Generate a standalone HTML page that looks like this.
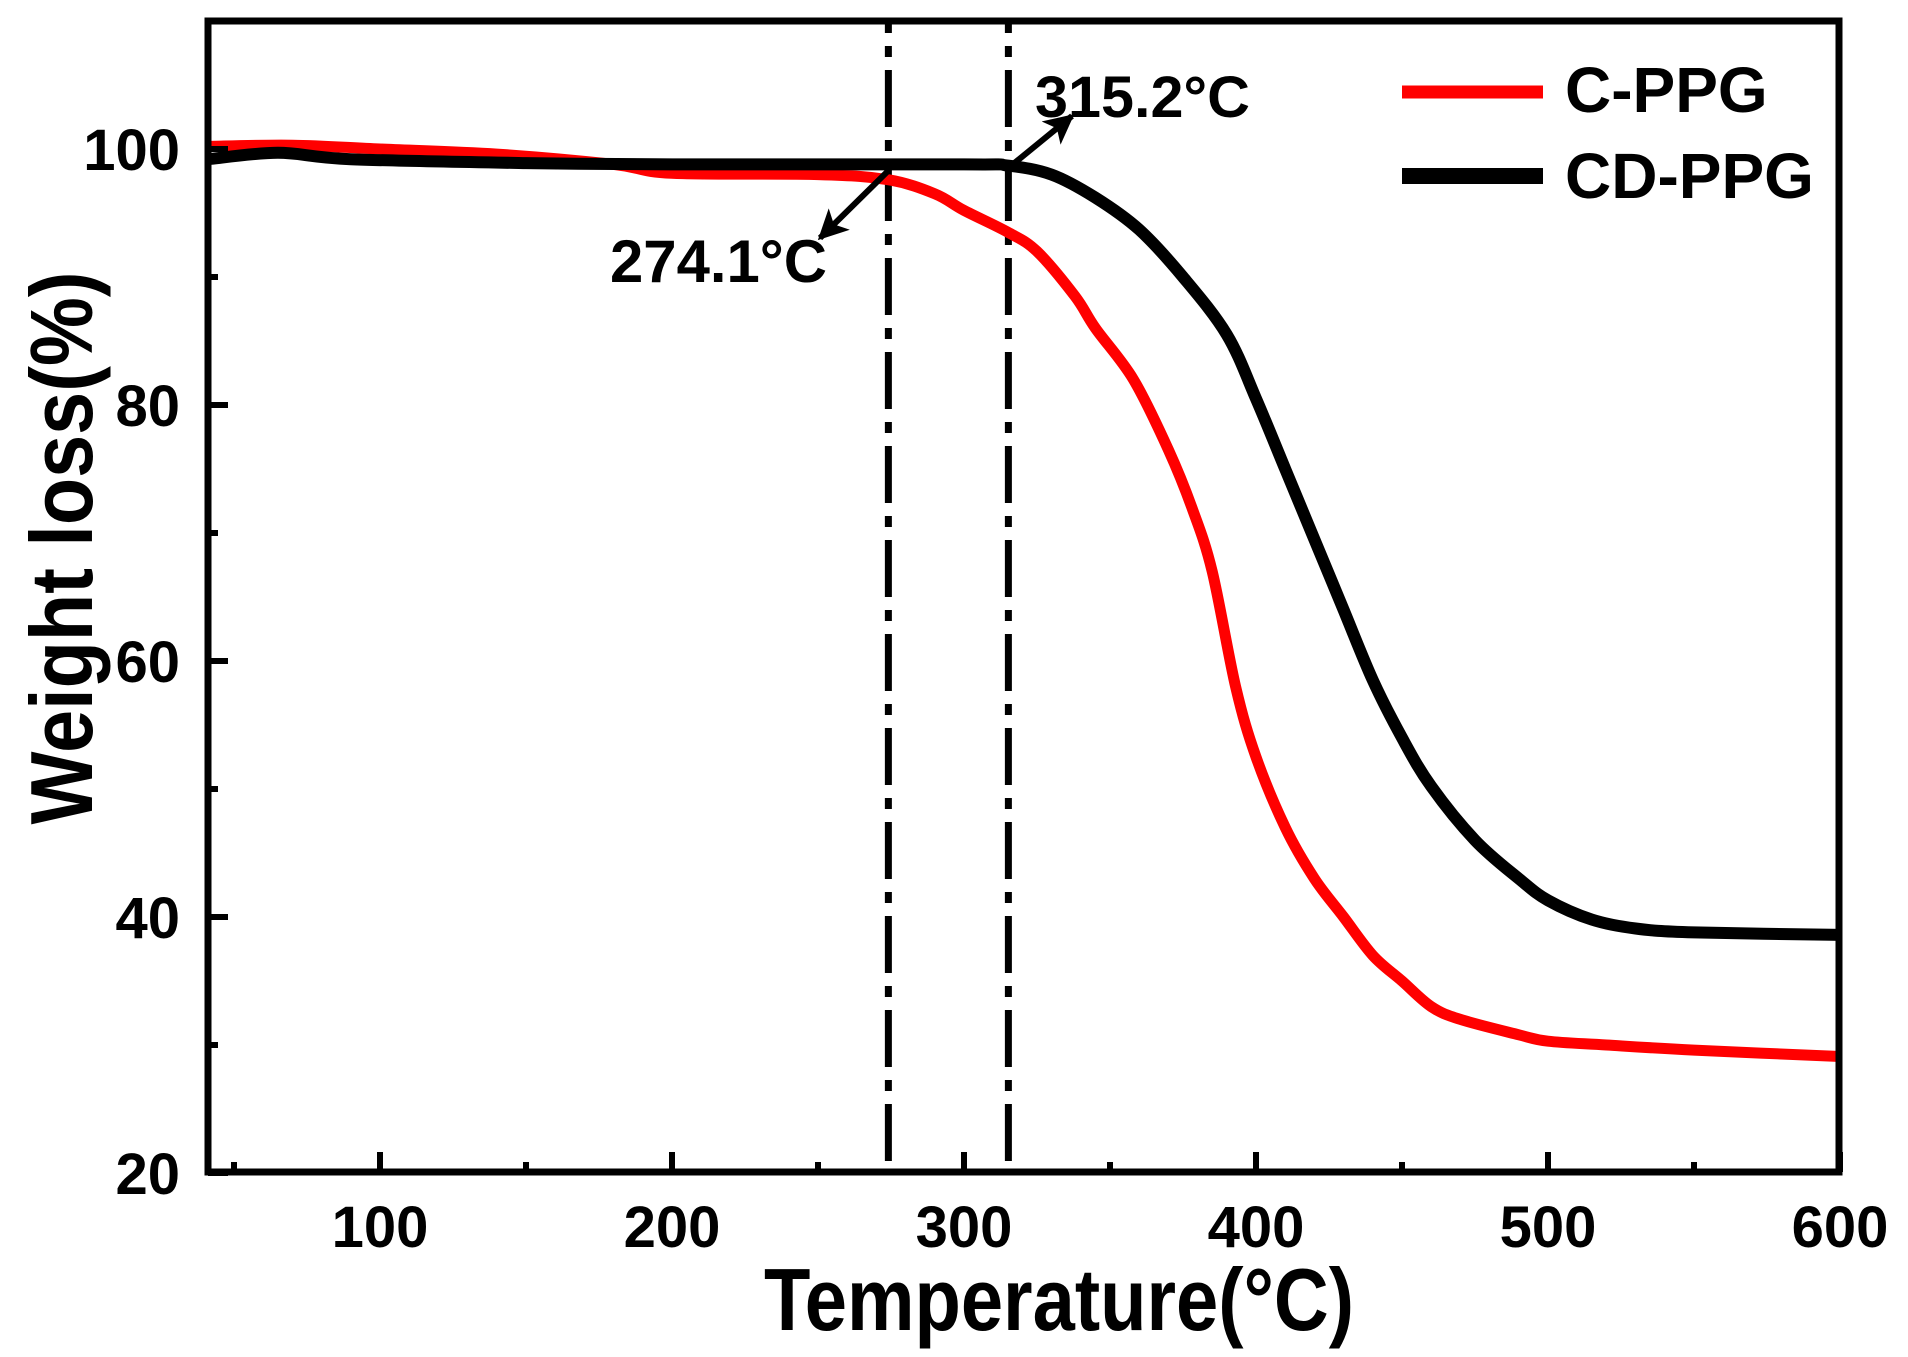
<!DOCTYPE html>
<html><head><meta charset="utf-8"><style>
html,body{margin:0;padding:0;background:#fff;}
svg{display:block;font-family:"Liberation Sans",Arial,sans-serif;font-weight:bold;}
</style></head><body>
<svg id="chart" width="1908" height="1357" viewBox="0 0 1908 1357" xmlns="http://www.w3.org/2000/svg">
<defs>
<marker id="ah" viewBox="0 0 10 10" refX="9" refY="5" markerWidth="5" markerHeight="5" markerUnits="strokeWidth" orient="auto">
<path d="M0,0 L10,5 L0,10 L2.5,5 Z" fill="#000"/>
</marker>
</defs>
<g id="plot"></g>
</svg>
<script>
const xTicks = [100, 200, 300, 400, 500, 600];
const xMinor = [50, 150, 250, 350, 450, 550];
const yTicks = [20, 40, 60, 80, 100];
const yMinor = [30, 50, 70, 90];
const cppgT = [41,70,100,140,180,200,250,274,290,300,315,325,338,345,358,370,378,385,393,400,410,420,430,440,450,460,470,490,500,520,550,600];
const cppgW = [100.2,100.3,100,99.6,98.8,98.1,98,97.6,96.5,95.2,93.5,92,88.5,86,82,76.5,72,67,58,52.5,47,43,40,37,35,33,32,30.8,30.3,30,29.6,29.1];
const cdppgT = [41,65,90,150,200,300,315,330,345,360,375,390,400,410,420,430,440,450,460,475,490,500,515,530,550,600];
const cdppgW = [99.2,99.7,99.2,98.9,98.8,98.8,98.7,98,96.2,93.7,90,85.5,80.5,75,69.5,64,58.5,54,50.2,46,43,41.3,39.8,39.1,38.8,38.6];
const onsetTemps = [274.1, 315.2];
const onsetLabels = ["274.1°C", "315.2°C"];

const NS = "http://www.w3.org/2000/svg";
const L = 208, R = 1839, T = 21, B = 1172;
function xs(v){ return 1548 + (v - 500) * 2.92; }
function ys(v){ return 1173 - (v - 20) * 12.8; }
const g = document.getElementById('plot');
function mk(tag, attrs, parent){
  const e = document.createElementNS(NS, tag);
  for (const k in attrs) e.setAttribute(k, attrs[k]);
  (parent || g).appendChild(e);
  return e;
}
function smoothPath(px, py){
  let d = "M" + px[0].toFixed(1) + "," + py[0].toFixed(1);
  for (let i = 0; i < px.length - 1; i++){
    const x0 = px[Math.max(0,i-1)], y0 = py[Math.max(0,i-1)];
    const x1 = px[i], y1 = py[i], x2 = px[i+1], y2 = py[i+1];
    const x3 = px[Math.min(px.length-1,i+2)], y3 = py[Math.min(px.length-1,i+2)];
    const c1x = x1 + (x2 - x0)/6, c1y = y1 + (y2 - y0)/6;
    const c2x = x2 - (x3 - x1)/6, c2y = y2 - (y3 - y1)/6;
    d += " C" + c1x.toFixed(1) + "," + c1y.toFixed(1) + " " + c2x.toFixed(1) + "," + c2y.toFixed(1) + " " + x2.toFixed(1) + "," + y2.toFixed(1);
  }
  return d;
}

onsetTemps.forEach((t, i) => {
  const ln = mk('line', {x1: xs(t), x2: xs(t), y1: T, y2: B, stroke: '#000', 'stroke-width': 7, 'stroke-dasharray': '57 13 11 13', 'stroke-dashoffset': 45});
  
  
});

const red = mk('path', {d: smoothPath(cppgT.map(xs), cppgW.map(ys)), fill: 'none', stroke: '#ff0000', 'stroke-width': 11, 'stroke-linejoin': 'round'});


const blk = mk('path', {d: smoothPath(cdppgT.map(xs), cdppgW.map(ys)), fill: 'none', stroke: '#000', 'stroke-width': 12, 'stroke-linejoin': 'round'});



const frame = mk('rect', {x: L, y: T, width: R - L, height: B - T, fill: 'none', stroke: '#000', 'stroke-width': 7});



xTicks.forEach(v => {
  const t = mk('line', {x1: xs(v), x2: xs(v), y1: B, y2: B - 20, stroke: '#000', 'stroke-width': 6});
  
  
  const lb = mk('text', {x: xs(v), y: 1247, 'text-anchor': 'middle', 'font-size': 58});
  lb.textContent = v;
  
  
});
xMinor.forEach(v => {
  const t = mk('line', {x1: xs(v), x2: xs(v), y1: B, y2: B - 10, stroke: '#000', 'stroke-width': 6});
  
  
});
yTicks.forEach(v => {
  const t = mk('line', {x1: L, x2: L + 20, y1: ys(v), y2: ys(v), stroke: '#000', 'stroke-width': 6});
  
  
  const lb = mk('text', {x: 180, y: ys(v) + 21, 'text-anchor': 'end', 'font-size': 58});
  lb.textContent = v;
  
  
});
yMinor.forEach(v => {
  const t = mk('line', {x1: L, x2: L + 10, y1: ys(v), y2: ys(v), stroke: '#000', 'stroke-width': 6});
  
  
});

const a1 = mk('line', {x1: 1012, y1: 165, x2: 1072, y2: 116, stroke: '#000', 'stroke-width': 6, 'marker-end': 'url(#ah)'});


const a2 = mk('line', {x1: 887, y1: 172, x2: 820, y2: 238, stroke: '#000', 'stroke-width': 6, 'marker-end': 'url(#ah)'});



const an1 = mk('text', {x: 610, y: 282, 'font-size': 60, textLength: 217, lengthAdjust: 'spacingAndGlyphs'});
an1.textContent = onsetLabels[0];


const an2 = mk('text', {x: 1035, y: 117, 'font-size': 58, textLength: 215, lengthAdjust: 'spacingAndGlyphs'});
an2.textContent = onsetLabels[1];



const lg1 = mk('line', {x1: 1402, x2: 1543, y1: 92, y2: 92, stroke: '#ff0000', 'stroke-width': 13});


const lt1 = mk('text', {x: 1565, y: 112, 'font-size': 64});
lt1.textContent = 'C-PPG';


const lg2 = mk('line', {x1: 1402, x2: 1543, y1: 176, y2: 176, stroke: '#000', 'stroke-width': 16});


const lt2 = mk('text', {x: 1565, y: 198, 'font-size': 64});
lt2.textContent = 'CD-PPG';



const xt = mk('text', {x: 764, y: 1330, 'font-size': 88, textLength: 590, lengthAdjust: 'spacingAndGlyphs'});
xt.textContent = 'Temperature(°C)';


const yt = mk('text', {x: 0, y: 0, 'font-size': 88, 'text-anchor': 'middle', textLength: 553, lengthAdjust: 'spacingAndGlyphs', transform: 'translate(92,548) rotate(-90)'});
yt.textContent = 'Weight loss(%)';


</script>
</body></html>
